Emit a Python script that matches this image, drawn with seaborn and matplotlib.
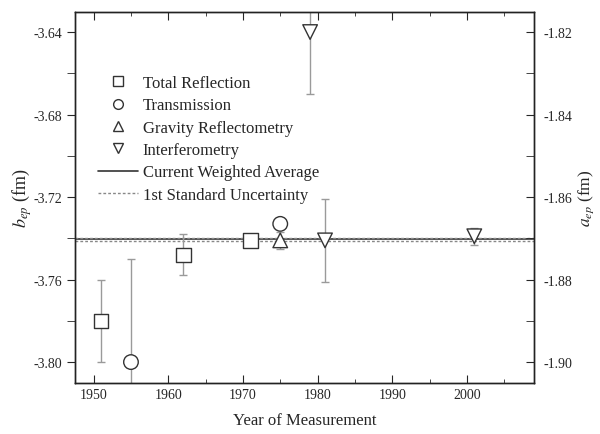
import numpy as np
import pandas as pd
import matplotlib
matplotlib.use("Agg")
import matplotlib.pyplot as plt
from matplotlib.ticker import MultipleLocator
from matplotlib.lines import Line2D
import seaborn as sns

methods = ["Total Reflection", "Transmission", "Total Reflection", "Total Reflection",
           "Transmission", "Gravity Reflectometry", "Interferometry", "Interferometry",
           "Interferometry"]
years = [1951, 1955, 1962, 1971, 1975, 1975, 1979, 1981, 2001]
b_ep = [-3.780, -3.800, -3.748, -3.741, -3.733, -3.741, -3.640, -3.741, -3.739]
b_err = [0.020, 0.050, 0.010, 0.003, 0.0, 0.004, 0.030, 0.020, 0.004]

avg = -3.7405
avg_unc = 0.0007

marker_map = {"Total Reflection": "s", "Transmission": "o",
              "Gravity Reflectometry": "^", "Interferometry": "v"}

df = pd.DataFrame({"method": methods, "year": years, "b": b_ep, "err": b_err})

sns.set_style("ticks")
plt.rcParams["font.family"] = ["Liberation Serif", "DejaVu Serif"]
plt.rcParams["mathtext.fontset"] = "stix"

fig = plt.figure(figsize=(6, 4.35), dpi=100)
ax = fig.add_axes([0.125, 0.117, 0.765, 0.853])

ax.errorbar(df["year"], df["b"], yerr=df["err"], fmt="none", ecolor="#9a9a9a",
            elinewidth=1.0, capsize=3, capthick=1.0, zorder=2)
ax.axhline(avg, color="#333333", lw=1.2, zorder=1)
ax.axhline(avg + avg_unc, color="#888888", lw=1.0, ls=(0, (2, 1.5)), zorder=1)
ax.axhline(avg - avg_unc, color="#888888", lw=1.0, ls=(0, (2, 1.5)), zorder=1)

sns.scatterplot(data=df, x="year", y="b", style="method", markers=marker_map,
                s=110, facecolor="white", edgecolor="#333333", linewidth=1.0,
                legend=False, ax=ax, zorder=3)

ax.set_xlim(1947.5, 2009)
ax.set_ylim(-3.8102, -3.6303)
ax.xaxis.set_major_locator(MultipleLocator(10))
ax.xaxis.set_minor_locator(MultipleLocator(5))
ax.yaxis.set_major_locator(MultipleLocator(0.04))
ax.yaxis.set_minor_locator(MultipleLocator(0.02))
ax.yaxis.set_major_formatter(matplotlib.ticker.FormatStrFormatter("%.2f"))
ax.tick_params(axis="x", which="both", direction="in", top=True, labelsize=10)
ax.tick_params(axis="x", which="major", length=6)
ax.tick_params(axis="x", which="minor", length=3)
ax.tick_params(axis="y", which="both", direction="out", labelsize=10)
ax.tick_params(axis="y", which="major", length=6)
ax.tick_params(axis="y", which="minor", length=6)
ax.set_xlabel("Year of Measurement", fontsize=12, labelpad=8)
ax.set_ylabel(r"$b_{ep}$ (fm)", fontsize=13)
ax.yaxis.set_label_coords(-0.09, 0.5)

ax2 = ax.twinx()
lo, hi = ax.get_ylim()
ax2.set_ylim(lo / 2, hi / 2)
ax2.yaxis.set_major_locator(MultipleLocator(0.02))
ax2.yaxis.set_minor_locator(MultipleLocator(0.01))
ax2.yaxis.set_major_formatter(matplotlib.ticker.FormatStrFormatter("%.2f"))
ax2.tick_params(axis="y", which="both", direction="in", length=6, labelsize=10, pad=7)
ax2.set_ylabel(r"$a_{ep}$ (fm)", fontsize=12.5, rotation=90)
ax2.yaxis.set_label_coords(1.092, 0.5)

for a in (ax, ax2):
    for sp in a.spines.values():
        sp.set_color("#222222")
        sp.set_linewidth(1.0)

handles = [Line2D([], [], ls="none", marker=marker_map[m], mfc="white", mec="#333333",
                  ms=7, label=m) for m in marker_map]
handles.append(Line2D([], [], color="#333333", lw=1.2, label="Current Weighted Average"))
handles.append(Line2D([], [], color="#888888", lw=1.0, ls=(0, (2, 1.5)),
                      label="1st Standard Uncertainty"))
ax.legend(handles=handles, loc="upper left", bbox_to_anchor=(0.035, 0.848), frameon=False,
          fontsize=12, handlelength=2.4, handletextpad=0.3, labelspacing=0.38,
          borderaxespad=0)

fig.savefig("out.png", dpi=100)
